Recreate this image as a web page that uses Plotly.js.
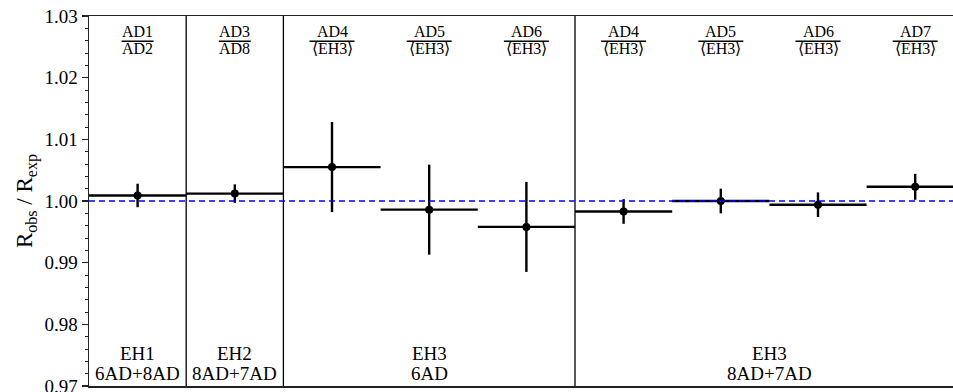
<!DOCTYPE html>
<html>
<head>
<meta charset="utf-8">
<script src="https://cdn.plot.ly/plotly-3.0.1.min.js"></script>
<style>html,body{margin:0;padding:0;background:#fff;overflow:hidden}</style>
</head>
<body>
<div id="chart" style="width:953px;height:392px"></div>
<script>
// ---- data ----
const numerators   = ["AD1", "AD3", "AD4", "AD5", "AD6", "AD4", "AD5", "AD6", "AD7"];
const denominators = ["AD2", "AD8", "⟨EH3⟩", "⟨EH3⟩", "⟨EH3⟩", "⟨EH3⟩", "⟨EH3⟩", "⟨EH3⟩", "⟨EH3⟩"];
const ratios       = [1.0009, 1.0012, 1.0055, 0.9986, 0.9958, 0.9983, 1.0000, 0.9994, 1.0023];
const ratioErrors  = [0.0019, 0.0015, 0.0073, 0.0073, 0.0073, 0.0020, 0.0020, 0.0020, 0.0021];
const groupHalls   = ["EH1", "EH2", "EH3", "EH3"];
const groupPeriods = ["6AD+8AD", "8AD+7AD", "6AD", "8AD+7AD"];
const groupBounds  = [0, 1, 2, 5, 9];

// ---- build ----
const serif = "Liberation Serif, Times New Roman, serif";
const xCenters = ratios.map((_, i) => i + 0.5);
const catPx = 97.2;

const traces = [{
  type: "scatter", mode: "markers",
  x: xCenters, y: ratios,
  marker: {color: "black", size: 8},
  error_y: {type: "data", array: ratioErrors, visible: true, color: "black", thickness: 2.4, width: 0},
  error_x: {type: "data", array: ratios.map(() => 0.5), visible: true, color: "black", thickness: 2.4, width: 0},
  hoverinfo: "skip", showlegend: false
}];

const shapes = [];
const annotations = [];

// separators between groups
groupBounds.slice(1, -1).forEach(b => {
  shapes.push({type: "line", xref: "x", yref: "paper", x0: b, x1: b, y0: 0, y1: 1,
               line: {color: "black", width: 1.3}, layer: "above"});
});
// reference line at 1
shapes.push({type: "line", xref: "paper", yref: "y", x0: 0, x1: 1, y0: 1, y1: 1,
             line: {color: "#0000ff", width: 1.5, dash: "6px,4px"}, layer: "above"});

// fraction labels
numerators.forEach((num, i) => {
  const den = denominators[i];
  const halfW = (den.startsWith("⟨") ? 45 : 32) / 2 / catPx;
  annotations.push({xref: "x", yref: "y", x: xCenters[i], y: 1.02749, text: num, showarrow: false,
                    xanchor: "center", yanchor: "middle", font: {family: serif, size: 16, color: "black"}});
  annotations.push({xref: "x", yref: "y", x: xCenters[i], y: 1.02465, text: den, showarrow: false,
                    xanchor: "center", yanchor: "middle", font: {family: serif, size: 16, color: "black"}});
  shapes.push({type: "line", xref: "x", yref: "y", x0: xCenters[i] - halfW, x1: xCenters[i] + halfW,
               y0: 1.0259, y1: 1.0259, line: {color: "black", width: 1.4}});
});

// group labels
groupHalls.forEach((hall, g) => {
  const cx = (groupBounds[g] + groupBounds[g + 1]) / 2;
  annotations.push({xref: "x", yref: "y", x: cx, y: 0.97527, text: hall, showarrow: false,
                    xanchor: "center", yanchor: "middle", font: {family: serif, size: 19, color: "black"}});
  annotations.push({xref: "x", yref: "y", x: cx, y: 0.97206, text: groupPeriods[g], showarrow: false,
                    xanchor: "center", yanchor: "middle", font: {family: serif, size: 19, color: "black"}});
});

const layout = {
  width: 953, height: 392,
  margin: {l: 89, r: 0, t: 16, b: 6, pad: 0},
  paper_bgcolor: "white", plot_bgcolor: "white",
  font: {family: serif, color: "black"},
  xaxis: {range: [0, 864 / catPx], showticklabels: false, ticks: "", showgrid: false, zeroline: false,
          showline: true, mirror: true, linecolor: "#222", linewidth: 1.5, fixedrange: true},
  yaxis: {range: [0.97, 1.03], tick0: 0.97, dtick: 0.01, tickformat: ".2f",
          ticks: "outside", ticklen: 6, tickwidth: 1.3, tickcolor: "#222",
          ticklabeloverflow: "allow",
          minor: {dtick: 0.002, ticks: "outside", ticklen: 3, tickwidth: 1, tickcolor: "#222"},
          showline: true, linecolor: "#222", linewidth: 1.5, showgrid: false, zeroline: false,
          tickfont: {family: serif, size: 19, color: "black"},
          title: {text: "R<sub>obs</sub> / R<sub>exp</sub>", font: {family: serif, size: 23, color: "black"}, standoff: 5},
          fixedrange: true},
  shapes: shapes,
  annotations: annotations
};

Plotly.newPlot("chart", traces, layout, {displayModeBar: false, staticPlot: true});
</script>
</body>
</html>
